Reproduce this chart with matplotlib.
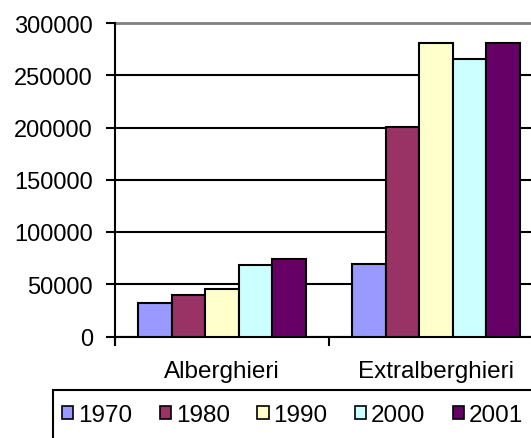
import matplotlib
matplotlib.use("Agg")
import matplotlib.pyplot as plt
from matplotlib.patches import Patch, Rectangle
import numpy as np

plt.rcParams['font.family'] = ['Liberation Sans', 'DejaVu Sans']

# data
categories = ["Alberghieri", "Extralberghieri"]
years = ["1970", "1980", "1990", "2000", "2001"]
values_1970 = [32500, 69000]
values_1980 = [39500, 200500]
values_1990 = [45000, 281000]
values_2000 = [68500, 265500]
values_2001 = [74000, 281000]
series = [values_1970, values_1980, values_1990, values_2000, values_2001]
colors = ["#9999FF", "#993366", "#FFFFCC", "#CCFFFF", "#660066"]

W, H = 531, 439
fig = plt.figure(figsize=(W / 100, H / 100), dpi=100)

# plot area runs past the right edge of the picture
left, right, top, bottom = 115, 543, 24, 337.5
ax = fig.add_axes([left / W, 1 - bottom / H, (right - left) / W, (bottom - top) / H])

x = np.arange(len(categories)) + 0.5
bw = 0.157
for i, (vals, col) in enumerate(zip(series, colors)):
    ax.bar(x + (i - 2) * bw, vals, bw, color=col, edgecolor="black",
           linewidth=1.5, zorder=3)

ax.set_xlim(0, 2)
ax.set_ylim(0, 300000)
ax.set_yticks(np.arange(0, 300001, 50000))
ax.yaxis.grid(True, color="black", linewidth=1.5, zorder=0)
ax.set_axisbelow(True)

ax.set_xticks([0, 1, 2])
ax.set_xticklabels([])
ax.set_xticks(x, minor=True)
ax.set_xticklabels(categories, minor=True)
ax.tick_params(axis="x", which="major", direction="out", length=6.5, width=1.5)
ax.tick_params(axis="x", which="minor", length=0, pad=17, labelsize=17.5)
ax.tick_params(axis="y", direction="out", length=6.5, width=1.5, pad=9.5, labelsize=17)

for s in ["left", "bottom"]:
    ax.spines[s].set_linewidth(1.5)
    ax.spines[s].set_color("black")
ax.spines["right"].set_visible(False)
ax.spines["top"].set_color("#808080")
ax.spines["top"].set_linewidth(2)
ax.spines["left"].set_bounds(-8000, 300000)
ax.spines["left"].set_zorder(4)

# legend box, also cut by the picture edge
fig.patches.append(Rectangle((52.7 / W, -0.05), 1.0, 1 - 391 / H + 0.05,
                             transform=fig.transFigure, fill=False,
                             edgecolor="black", linewidth=1.5))
handles = [Patch(facecolor=c, edgecolor="black", linewidth=1.2) for c in colors]
fig.legend(handles, years, loc="center left", bbox_to_anchor=(62 / W, 1 - 416 / H),
           ncol=5, frameon=False, fontsize=17.5, handlelength=0.47, handleheight=0.47,
           handletextpad=0.2, columnspacing=1.12, borderpad=0, borderaxespad=0)

fig.savefig("out.png", dpi=100)
